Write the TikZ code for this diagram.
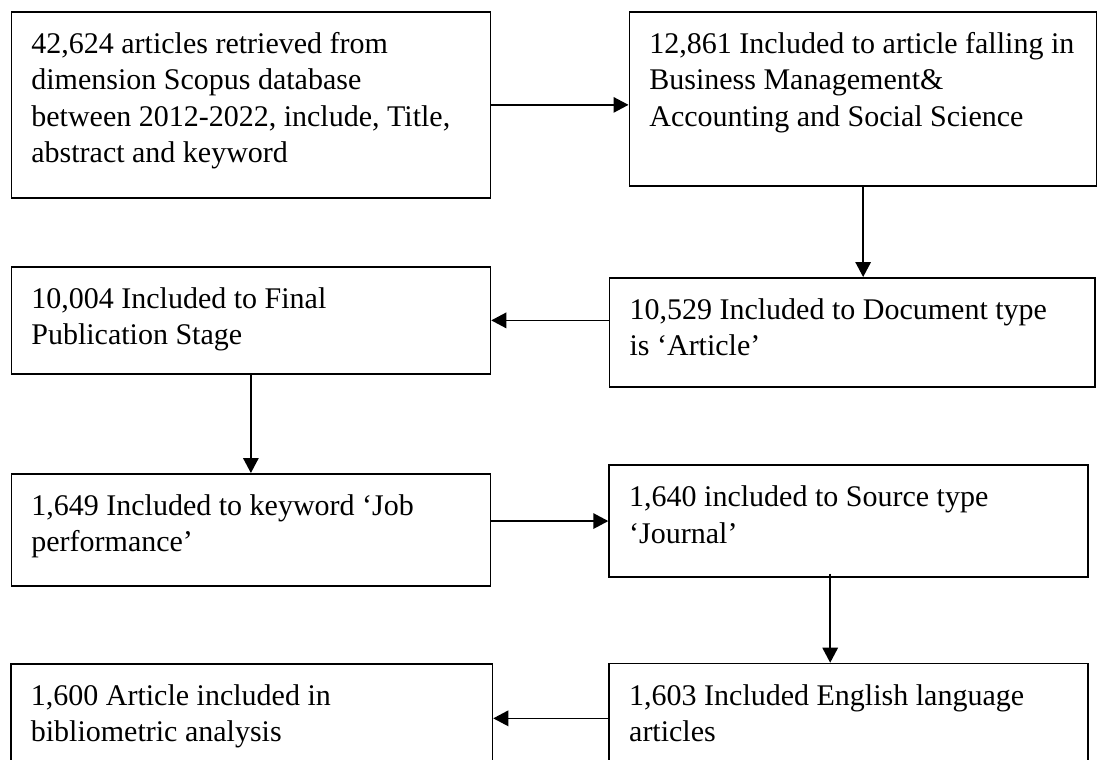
\documentclass[tikz,border=0pt]{standalone}
\usepackage{fontspec}
\setmainfont{Liberation Serif}
\usetikzlibrary{arrows.meta}
\begin{document}
\begin{tikzpicture}[x=0.4pt,y=-0.4pt,
  stage/.style 2 args={draw,line width=0.7pt,anchor=north west,align=left,
    inner xsep=8pt,inner ysep=0pt,text width=#1,text height=16.6pt,text depth=#2,
    font=\fontsize{12pt}{14.6pt}\selectfont,
    execute at begin node={\spaceskip=3pt plus 1pt minus 0.6pt\relax}},
  flow/.style={-{Triangle[length=6pt,width=6.2pt]},line width=0.6pt}]
\clip (0,0) rectangle (1097,759);
\node[stage={175.6pt}{57.8pt}] (R) at (10.5,11) {42,624 articles retrieved from\\dimension Scopus database\\between 2012-2022, include, Title,\\abstract and keyword};
\node[stage={171pt}{53pt}] (B) at (628.5,11) {12,861 Included to article falling in\\Business Management\&\\Accounting and Social Science};
\node[stage={178.3pt}{27pt}] (D) at (608.7,277) {10,529 Included to Document type\\is ‘Article’};
\node[stage={175.6pt}{26.2pt}] (F) at (10.5,266) {10,004 Included to Final\\Publication Stage};
\node[stage={175.6pt}{28.2pt}] (K) at (10.5,473) {1,649 Included to keyword ‘Job\\performance’};
\node[stage={175.6pt}{28.1pt}] (J) at (608.3,464.3) {1,640 included to Source type\\‘Journal’};
\node[stage={175.6pt}{27.2pt}] (E) at (608.3,662.7) {1,603 Included English language\\articles};
\node[stage={176.6pt}{27.2pt}] (N) at (10,663) {1,600 Article included in\\bibliometric analysis};
\path[flow]
  (R.east) edge (R.east -| B.west)
  (B.south) edge (B.south |- D.north)
  (D.west |- F.east) edge (F.east)
  (F.south) edge (F.south |- K.north)
  (K.east |- J.west) edge (J.west)
  ([xshift=-7.4pt,yshift=1.7pt]J.south) edge ([xshift=-7.4pt]J.south |- E.north)
  (E.west) edge (E.west -| N.east)
;
\end{tikzpicture}
\end{document}
